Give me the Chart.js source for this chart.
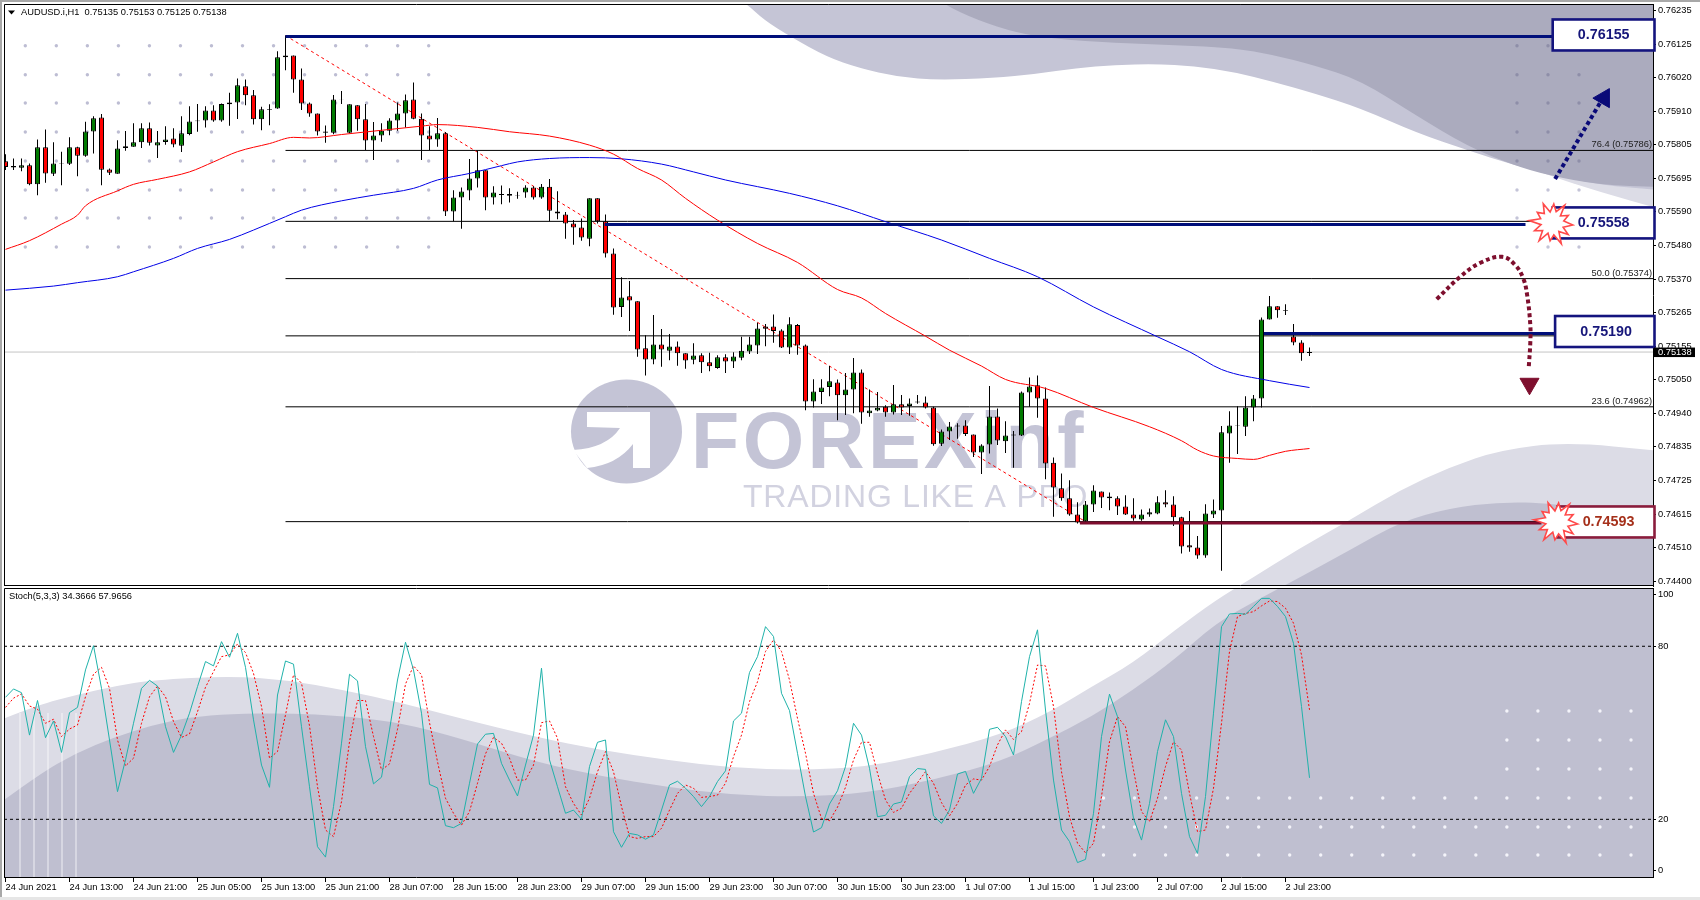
<!DOCTYPE html>
<html><head><meta charset="utf-8">
<style>
html,body{margin:0;padding:0;background:#fff;width:1700px;height:900px;overflow:hidden}
canvas{position:absolute;left:0}
#stripT{position:absolute;left:0;top:0;width:1700px;height:2px;background:#A8A8A8;z-index:5}
#stripL{position:absolute;left:0;top:0;width:2px;height:900px;background:#A8A8A8;z-index:5}
#stripB{position:absolute;left:0;top:897px;width:1700px;height:3px;background:#E6E6E6;z-index:5}
</style>
<script src="https://cdn.jsdelivr.net/npm/chart.js@4/dist/chart.umd.min.js"></script>
</head><body>
<div id="stripT"></div><div id="stripL"></div><div id="stripB"></div>
<canvas id="main" width="1700" height="587" style="top:0"></canvas>
<canvas id="sub" width="1700" height="313" style="top:587px"></canvas>
<script>
const symbolTitle="AUDUSD.i,H1  0.75135 0.75153 0.75125 0.75138";
const stochTitle="Stoch(5,3,3) 34.3666 57.9656";
const xTickLabels=["24 Jun 2021","24 Jun 13:00","24 Jun 21:00","25 Jun 05:00","25 Jun 13:00","25 Jun 21:00","28 Jun 07:00","28 Jun 15:00","28 Jun 23:00","29 Jun 07:00","29 Jun 15:00","29 Jun 23:00","30 Jun 07:00","30 Jun 15:00","30 Jun 23:00","1 Jul 07:00","1 Jul 15:00","1 Jul 23:00","2 Jul 07:00","2 Jul 15:00","2 Jul 23:00"];
const priceTicks=[0.76235,0.76125,0.7602,0.7591,0.75805,0.75695,0.7559,0.7548,0.7537,0.75265,0.75155,0.7505,0.7494,0.74835,0.74725,0.74615,0.7451,0.744];
const opens=[0.75751,0.75731,0.7573,0.75738,0.75677,0.75796,0.75711,0.75743,0.75743,0.75796,0.75769,0.75847,0.75892,0.75725,0.75711,0.75794,0.75798,0.75812,0.75857,0.75802,0.75813,0.75824,0.75801,0.75839,0.7588,0.75882,0.75914,0.75882,0.75934,0.7594,0.75992,0.75963,0.75886,0.75917,0.75921,0.76085,0.76091,0.76014,0.75937,0.75905,0.75843,0.75843,0.75949,0.75843,0.75931,0.75886,0.75818,0.75834,0.75849,0.75882,0.75905,0.7595,0.75888,0.75834,0.75821,0.75841,0.7559,0.75635,0.75657,0.75696,0.75722,0.75635,0.75643,0.7564,0.75641,0.75651,0.75667,0.75635,0.75669,0.7559,0.7558,0.75551,0.75538,0.75502,0.75632,0.75558,0.75455,0.75283,0.75317,0.75301,0.7515,0.75114,0.75162,0.75142,0.75156,0.75134,0.75113,0.75128,0.75105,0.75087,0.75121,0.75108,0.7512,0.7514,0.75159,0.7522,0.7522,0.75207,0.75153,0.75225,0.75159,0.74979,0.7501,0.75026,0.7504,0.74999,0.75018,0.75072,0.74941,0.7495,0.74962,0.74944,0.7497,0.74965,0.74976,0.74976,0.7496,0.74843,0.74883,0.74899,0.74902,0.74873,0.74815,0.74841,0.74931,0.74851,0.7487,0.7487,0.75008,0.75031,0.74989,0.74782,0.747,0.74668,0.74616,0.74594,0.74648,0.7469,0.74674,0.74668,0.74642,0.74616,0.746,0.74616,0.74619,0.74655,0.74648,0.74607,0.74517,0.7451,0.74484,0.74616,0.74629,0.74876,0.749,0.74898,0.7496,0.74989,0.75243,0.75285,0.7527,0.75188,0.75169,0.75135];
const highs=[0.75774,0.7576,0.7576,0.75744,0.75821,0.75853,0.75812,0.75782,0.75828,0.75798,0.75878,0.75896,0.75903,0.75728,0.75819,0.75848,0.75873,0.75873,0.75876,0.75848,0.75864,0.75857,0.75896,0.75928,0.75935,0.75928,0.75931,0.75937,0.75971,0.76017,0.76014,0.7598,0.75926,0.75934,0.76105,0.76155,0.76091,0.76049,0.7594,0.75905,0.75866,0.75964,0.75977,0.75934,0.75931,0.75935,0.75877,0.75873,0.75889,0.7594,0.75966,0.76004,0.75905,0.75864,0.7589,0.75845,0.75658,0.75667,0.75758,0.75784,0.75722,0.75671,0.75673,0.75664,0.75653,0.75674,0.75671,0.75678,0.75694,0.75655,0.75588,0.75562,0.75567,0.75632,0.75632,0.7558,0.75471,0.75378,0.75366,0.75301,0.75192,0.75257,0.75212,0.75196,0.75172,0.75134,0.75166,0.75134,0.75136,0.75128,0.75131,0.75137,0.75187,0.75187,0.75232,0.75228,0.75259,0.75211,0.7525,0.75228,0.75162,0.75051,0.75051,0.75093,0.7505,0.75071,0.75119,0.75082,0.75018,0.7501,0.74967,0.75032,0.75,0.74989,0.75,0.74995,0.74962,0.74889,0.74913,0.74909,0.74919,0.74873,0.74842,0.75029,0.74957,0.74916,0.74884,0.75011,0.75056,0.75063,0.75024,0.74799,0.74748,0.74726,0.74655,0.74659,0.7471,0.7469,0.74687,0.74675,0.74678,0.74668,0.74632,0.74635,0.74675,0.74694,0.74675,0.74609,0.74627,0.74547,0.74649,0.74664,0.749,0.74948,0.74964,0.74996,0.75,0.75249,0.75318,0.75285,0.75292,0.75228,0.75176,0.75153];
const lows=[0.75723,0.75723,0.75719,0.75674,0.75642,0.75682,0.75704,0.75674,0.75739,0.75703,0.75766,0.75776,0.75674,0.75707,0.75711,0.75785,0.75798,0.75794,0.75802,0.75762,0.75804,0.75796,0.75781,0.75835,0.75846,0.7586,0.75878,0.75878,0.75865,0.75887,0.75931,0.75869,0.75851,0.75867,0.7592,0.76044,0.75971,0.75916,0.75894,0.75834,0.75811,0.75838,0.75935,0.75841,0.75849,0.75787,0.75755,0.75814,0.75835,0.75849,0.7586,0.75886,0.75755,0.75787,0.75798,0.75575,0.75558,0.75534,0.75626,0.75667,0.75594,0.75612,0.75613,0.75619,0.75631,0.75634,0.75628,0.75631,0.75558,0.75565,0.75502,0.75483,0.75496,0.75478,0.75551,0.75442,0.75258,0.75251,0.75206,0.75123,0.75063,0.75099,0.75091,0.75112,0.75094,0.75084,0.75099,0.75071,0.75076,0.75084,0.75071,0.75087,0.75112,0.75132,0.75132,0.75157,0.75168,0.75151,0.75132,0.75129,0.74951,0.7496,0.74971,0.74996,0.74919,0.74936,0.74941,0.74908,0.7493,0.74948,0.7493,0.74937,0.74936,0.74933,0.74972,0.74957,0.74837,0.74836,0.74855,0.74859,0.74868,0.74801,0.74746,0.74812,0.74839,0.74814,0.74766,0.74868,0.74962,0.74927,0.74729,0.74609,0.7466,0.74612,0.74587,0.74591,0.74624,0.74637,0.7463,0.74614,0.74614,0.74596,0.74596,0.74609,0.74617,0.74639,0.74579,0.74491,0.74496,0.74474,0.74477,0.74605,0.74435,0.74782,0.7481,0.74868,0.74916,0.7496,0.75243,0.75248,0.75257,0.7516,0.7511,0.75125];
const closes=[0.75733,0.75736,0.75738,0.75677,0.75796,0.75712,0.75744,0.75745,0.75796,0.75769,0.75847,0.75889,0.75724,0.75714,0.75792,0.75799,0.75812,0.75857,0.75811,0.75812,0.75821,0.75805,0.75841,0.75879,0.75882,0.75914,0.75882,0.75935,0.7594,0.75995,0.75963,0.75886,0.75918,0.75919,0.76085,0.76091,0.76014,0.75937,0.75905,0.75847,0.75847,0.7595,0.7595,0.75934,0.75886,0.75818,0.75834,0.75849,0.75882,0.75905,0.75947,0.75888,0.75834,0.75821,0.75841,0.7559,0.75635,0.75654,0.75696,0.75722,0.75635,0.75651,0.75646,0.75646,0.75643,0.75667,0.75635,0.75669,0.75592,0.75583,0.75551,0.75538,0.75506,0.75632,0.75558,0.75455,0.75281,0.75313,0.75304,0.75146,0.75114,0.75162,0.75146,0.75156,0.75134,0.75111,0.75127,0.75105,0.75092,0.75121,0.75108,0.75124,0.75142,0.75162,0.75214,0.75213,0.75206,0.75153,0.75227,0.75159,0.74979,0.75011,0.75024,0.75044,0.74999,0.75018,0.75072,0.74944,0.7495,0.74959,0.74944,0.7497,0.7496,0.74973,0.74979,0.7496,0.74842,0.74883,0.74899,0.74902,0.74875,0.74815,0.74838,0.74931,0.74854,0.7487,0.74873,0.75008,0.75027,0.74989,0.7478,0.74703,0.74668,0.74616,0.7459,0.74648,0.74693,0.74671,0.74668,0.74642,0.74616,0.74603,0.74616,0.74623,0.74655,0.74648,0.74607,0.74513,0.7451,0.74484,0.74619,0.74629,0.7488,0.74902,0.74902,0.7496,0.74989,0.75243,0.75285,0.75272,0.75272,0.75169,0.75134,0.75138];
const maRedBars=[0,3,7,9,10,14,16,19,23,26,29,33,36,38,42,46,52,54,59,63,68,73,76,79,82,85,89,94,99,104,107,110,115,118,122,125,130,136,143,147,149,151,154,156,158,160,163];
const maRedValues=[0.75468,0.75496,0.75549,0.75578,0.75608,0.75656,0.75677,0.75693,0.75717,0.75749,0.75782,0.75808,0.75828,0.75826,0.75837,0.75848,0.75864,0.75869,0.7586,0.75846,0.75832,0.75803,0.75774,0.75728,0.75691,0.75632,0.75562,0.75487,0.75426,0.75339,0.75312,0.75262,0.75189,0.75144,0.75093,0.7505,0.75021,0.7496,0.74898,0.74853,0.74823,0.74804,0.74796,0.74793,0.74806,0.74819,0.74828];
const maBlueBars=[0,6,9,14,16,21,24,28,31,35,37,42,46,51,54,58,62,64,68,73,77,82,86,90,98,104,110,117,123,129,136,144,148,152,158,163];
const maBlueValues=[0.75337,0.7535,0.75361,0.7538,0.75396,0.75439,0.75471,0.755,0.7553,0.75573,0.75594,0.75624,0.75642,0.75664,0.75691,0.75712,0.75737,0.75749,0.7576,0.75763,0.75759,0.75742,0.75717,0.75691,0.75648,0.75608,0.75557,0.75498,0.75439,0.7538,0.75283,0.75187,0.75139,0.75082,0.75046,0.75024];
const stochK=[62.3,65.2,63.9,49.2,61.2,48.3,54.1,43.2,57.0,58.8,71.8,80.2,65.4,47.5,29.6,40.6,53.3,65.4,68.2,66.2,52.1,43.2,49.2,56.8,66.0,74.7,73.2,81.6,76.2,84.5,72.7,54.5,38.8,31.1,63.1,74.9,73.8,52.1,31.3,10.5,6.9,24.4,46.4,70.3,68.0,45.2,32.3,34.6,51.0,68.3,81.4,71.8,56.8,32.1,30.9,17.8,17.1,18.6,32.5,46.1,49.5,49.8,39.4,33.6,28.1,38.8,49.2,72.4,40.6,31.3,22.1,23.2,20.0,38.3,46.7,47.5,15.7,10.3,15.1,14.6,13.1,14.6,23.2,31.9,33.2,30.8,27.9,24.4,27.9,33.1,36.8,54.1,56.8,70.9,76.4,86.8,83.4,63.7,57.7,42.9,27.9,15.6,17.1,25.3,29.9,38.3,53.3,49.2,37.7,20.9,21.4,25.3,26.0,34.8,37.6,37.3,21.2,18.6,23.2,35.7,36.6,29.0,34.2,51.2,51.9,48.7,42.3,60.8,76.4,85.7,57.9,33.6,16.3,12.3,5.0,6.1,22.1,48.7,63.4,55.6,37.1,20.3,12.8,25.5,43.5,54.5,48.7,29.0,14.0,8.2,27.9,56.8,86.8,91.2,91.4,91.1,93.8,96.6,96.6,93.8,90.3,81.0,59.1,34.37];
const stochD=[58.8,62.0,63.5,59.3,58.2,53.3,54.7,48.7,51.3,52.7,62.5,70.3,72.7,65.4,47.5,38.5,41.2,53.3,62.5,66.2,62.5,53.9,48.4,49.6,57.3,65.8,71.2,76.4,77.0,80.8,77.8,70.6,59.1,41.2,43.5,56.2,70.1,67.2,52.4,31.3,16.3,14.0,26.1,46.9,61.2,61.2,48.7,37.1,39.2,51.2,66.9,73.2,70.1,53.5,40.0,27.3,22.1,18.0,22.7,32.5,42.7,48.4,46.4,41.2,33.6,33.6,38.8,53.5,54.1,48.1,31.3,25.5,21.5,27.3,36.5,43.5,36.5,24.4,14.0,13.4,14.0,14.0,16.9,23.2,29.0,31.9,30.8,27.6,27.9,28.4,32.5,41.7,49.2,60.8,67.7,78.2,82.2,78.2,68.3,55.0,42.9,29.0,20.3,19.5,24.2,31.1,40.6,46.7,46.7,36.0,26.7,22.4,23.8,29.0,32.7,36.5,32.5,25.8,21.2,25.5,31.9,34.0,33.6,38.3,45.8,51.0,47.7,50.4,60.2,73.5,73.2,59.1,36.5,20.9,11.7,8.4,11.7,27.9,46.9,55.6,52.1,37.1,22.7,19.2,27.3,38.3,46.9,44.0,29.0,15.7,16.3,30.8,53.3,78.2,90.3,91.4,92.0,94.0,95.7,95.5,93.2,88.0,77.0,57.97];
const stochLevels=[20,80];
const stochTickValues=[2.2,20,80,97.8];
const stochTickLabels=["0","20","80","100"];
const fibValues=[0.75786,0.75558,0.75374,0.7519,0.74962,0.74593];
const fibLabelValues=[0.75786,0.75374,0.74962];
const fibLabels=["76.4 (0.75786)","50.0 (0.75374)","23.6 (0.74962)"];
const fibStartBar=35, fibEndBar=135, fibHigh=0.76155, fibLow=0.74593;
const lastPrice=0.75138;
const levelValues=[0.76152,0.75548,0.75198,0.74589];
const levelStarts=[35,74.9,157.3,134.3];
const levelEnds=[193.4,190,194,192];
const levelColors=["#000F7A","#000F7A","#000F7A","#7E0C2E"];
const boxLabels=["0.76155","0.75558","0.75190","0.74593"];
const boxCenters=[0.76157,0.75553,0.75204,0.74592];
const boxBars=[193.4,193.4,193.7,194];
const boxBorders=["#14147E","#14147E","#14147E","#8A1C3C"];
const boxInks=["#16167A","#16167A","#16167A","#A5301A"];
const burstBars=[193.3,193.9];
const burstPrices=[0.75553,0.74592];
const upArrowBars=[193.7,199.3];
const upArrowPrices=[0.75694,0.75938];
const downArrowBars=[178.9,181.8,184.3,187.1,188.7,189.7,190.2,190.6,190.6,190.4];
const downArrowPrices=[0.75308,0.75379,0.75424,0.75444,0.75418,0.75376,0.75322,0.75225,0.75168,0.75087];

const FONT='"Liberation Sans",Arial,sans-serif';
const XMIN=-0.1875, XMAX=205.9375;
const pairs=(xs,ys)=>xs.map((x,i)=>({x,y:ys[i]}));
const hline=(a,b,v)=>[{x:a,y:v},{x:b,y:v}];
const isDoji=i=>Math.abs(opens[i]-closes[i])<=0.00003;
const lineBase={type:'line',pointRadius:0,borderWidth:1,tension:0,fill:false};

const WAVE_DARK_TOP=[[940,0],[945,5],[977,20],[1017,33],[1056,39],[1115,43],[1175,45],[1234,48],[1274,55],[1313,65],[1360,80],[1417,116],[1467,146],[1513,165],[1547,175],[1600,185],[1660,187]];
const WAVE_MID_TOP=[[740,0],[748,5],[764,20],[791,37],[827,57],[859,68],[898,77],[938,80],[993,78],[1036,74],[1076,68],[1115,65],[1155,64],[1194,66],[1234,72],[1274,82],[1313,93],[1360,108],[1417,133],[1467,150],[1513,165],[1560,176],[1600,185],[1660,190]];
const WAVE_LIGHT_TOP=[[1480,150],[1547,175],[1600,192],[1660,209]];
const WAVE_LIGHT_BOT=[[0,720],[38,705],[76,695],[115,686],[153,680],[230,676],[287,680],[344,690],[402,703],[459,718],[536,737],[600,750],[667,760],[733,768],[800,770],[867,767],[933,753],[1000,735],[1050,712],[1091,687],[1133,663],[1175,630],[1216,600],[1249,580],[1300,548],[1350,520],[1400,490],[1450,467],[1500,450],[1567,442],[1660,451]];
const WAVE_DARK_BOT=[[0,803],[38,775],[76,753],[115,737],[153,725],[191,717],[230,714],[287,713],[344,716],[402,723],[459,738],[536,762],[600,776],[667,787],[733,795],[800,797],[867,793],[933,780],[1000,762],[1050,738],[1091,717],[1133,690],[1174,660],[1216,623],[1257,600],[1295,580],[1350,550],[1400,522],[1450,508],[1500,502],[1550,503],[1660,518]];

function curve(ctx,p){
  ctx.moveTo(p[0][0],p[0][1]);
  for(let i=1;i<p.length-1;i++){
    ctx.quadraticCurveTo(p[i][0],p[i][1],(p[i][0]+p[i+1][0])/2,(p[i][1]+p[i+1][1])/2);
  }
  ctx.lineTo(p[p.length-1][0],p[p.length-1][1]);
}
function wave(ctx,p,color,closeY){
  ctx.beginPath();curve(ctx,p);
  ctx.lineTo(p[p.length-1][0],closeY);ctx.lineTo(p[0][0],closeY);ctx.closePath();
  ctx.fillStyle=color;ctx.fill();
}
function dot(ctx,x,y,c){ctx.fillStyle=c;ctx.beginPath();ctx.arc(x,y,1.7,0,Math.PI*2);ctx.fill();}

function backdrop(ctx,area,offsetY){
  ctx.save();
  ctx.beginPath();ctx.rect(area.left,area.top,area.right-area.left,area.bottom-area.top);ctx.clip();
  ctx.translate(0,-offsetY);
  wave(ctx,WAVE_LIGHT_TOP,'#DCDCE6',0);
  wave(ctx,WAVE_MID_TOP,'#C5C5D6',0);
  wave(ctx,WAVE_DARK_TOP,'#ABABBE',0);
  wave(ctx,WAVE_LIGHT_BOT,'#DCDCE6',900);
  wave(ctx,WAVE_DARK_BOT,'#BFBFD0',900);
  const rows=[45.7,74.7,103,132,161,190,218,247];
  for(let c=0;c<14;c++)for(const y of rows)dot(ctx,25.3+31.03*c,y,'#BDBDD3');
  [1517,1548,1579].forEach((x,c)=>rows.forEach((y,r)=>{if(!(c===2&&r===0))dot(ctx,x,y,y<175?'#8E8EA8':'#C4C4D8');}));
  for(const x of [19,33,47,61,75]){ctx.fillStyle='rgba(255,255,255,0.38)';ctx.fillRect(x,713,2,170);}
  for(let k=0;k<18;k++){
    for(const y of [798,827,855])dot(ctx,1103.5+31.03*k,y,'#F4F4FA');
    if(k>=13)for(const y of [711,740,769])dot(ctx,1103.5+31.03*k,y,'#F4F4FA');
  }
  ctx.restore();
}

const backdropMain={id:'backdropMain',beforeDatasetsDraw(c){
  const ctx=c.ctx;backdrop(ctx,c.chartArea,0);
  ctx.save();
  ctx.fillStyle='#C4C4D6';
  ctx.beginPath();ctx.ellipse(626.5,431.5,55.5,52,0,0,Math.PI*2);ctx.fill();
  ctx.fillStyle='#fff';
  ctx.beginPath();ctx.moveTo(587,412);ctx.lineTo(650,412);ctx.lineTo(650,468);ctx.lineTo(633,468);ctx.lineTo(633,444);
  ctx.quadraticCurveTo(617,465,587,468);ctx.lineTo(573,450);ctx.quadraticCurveTo(607,448,620,428);ctx.lineTo(587,427);ctx.closePath();ctx.fill();
  ctx.fillStyle='#C4C4D6';
  ctx.font='bold 79px '+FONT;ctx.textBaseline='alphabetic';ctx.textAlign='left';
  ctx.letterSpacing='3.4px';ctx.fillText('FOREXinf',691,468);
  ctx.fillStyle='#D2D2E0';
  ctx.font='32px '+FONT;ctx.letterSpacing='0.8px';ctx.fillText('TRADING LIKE A PRO',743,507);
  ctx.letterSpacing='0px';
  ctx.restore();
}};
const backdropSub={id:'backdropSub',beforeDatasetsDraw(c){backdrop(c.ctx,c.chartArea,587);}};

function burst(ctx,cx,cy){
  const radii=[21,12,20,11,23,12,18,11,22,12,19,11,23,12,18,12,21,11,19,12,22,11,18,12];
  ctx.beginPath();
  radii.forEach((r,i)=>{const a=i/radii.length*Math.PI*2+0.1;const x=cx+r*Math.cos(a),y=cy+r*Math.sin(a);i?ctx.lineTo(x,y):ctx.moveTo(x,y);});
  ctx.closePath();ctx.fillStyle='#fff';ctx.fill();ctx.strokeStyle='#FF4A4A';ctx.lineWidth=1.6;ctx.stroke();
}
const overlayMain={id:'overlayMain',afterDatasetsDraw(c){
  const ctx=c.ctx,xS=c.scales.x,yS=c.scales.y,a=c.chartArea;
  ctx.save();
  ctx.strokeStyle='#000';ctx.lineWidth=1;ctx.beginPath();
  ctx.moveTo(a.left+.5,a.bottom-.5);ctx.lineTo(a.left+.5,a.top+.5);ctx.lineTo(a.right,a.top+.5);
  ctx.moveTo(a.left,a.bottom-.5);ctx.lineTo(a.right,a.bottom-.5);ctx.stroke();
  ctx.fillStyle='#000';ctx.textBaseline='middle';ctx.textAlign='left';
  ctx.font='9.3px '+FONT;ctx.fillText(symbolTitle,21,12.5);
  ctx.beginPath();ctx.moveTo(8,10.5);ctx.lineTo(15,10.5);ctx.lineTo(11.5,14.5);ctx.closePath();ctx.fill();
  ctx.textAlign='right';ctx.textBaseline='bottom';ctx.fillStyle='#222';
  fibLabels.forEach((t,i)=>ctx.fillText(t,a.right-1,yS.getPixelForValue(fibLabelValues[i])-1));
  boxLabels.forEach((t,i)=>{
    const x=xS.getPixelForValue(boxBars[i]),y=yS.getPixelForValue(boxCenters[i]);
    ctx.fillStyle='#fff';ctx.fillRect(x,y-15.5,1654.5-x,31);
    ctx.strokeStyle=boxBorders[i];ctx.lineWidth=2.6;ctx.strokeRect(x,y-15.5,1654.5-x,31);
    ctx.fillStyle=boxInks[i];ctx.font='bold 14.3px '+FONT;ctx.textAlign='center';ctx.textBaseline='middle';
    ctx.fillText(t,x+51,y+0.5);
  });
  burstBars.forEach((b,i)=>burst(ctx,xS.getPixelForValue(b),yS.getPixelForValue(burstPrices[i])));
  const py=yS.getPixelForValue(lastPrice);
  ctx.fillStyle='#000';ctx.fillRect(a.right+1,py-4.5,41,9.5);
  ctx.fillStyle='#fff';ctx.font='9.3px '+FONT;ctx.textAlign='left';ctx.textBaseline='middle';
  ctx.fillText(lastPrice.toFixed(5),a.right+5,py+0.5);
  ctx.restore();
}};
const overlaySub={id:'overlaySub',afterDatasetsDraw(c){
  const ctx=c.ctx,a=c.chartArea;
  ctx.save();
  ctx.strokeStyle='#000';ctx.lineWidth=1;ctx.beginPath();
  ctx.moveTo(a.left+.5,a.bottom);ctx.lineTo(a.left+.5,a.top+.5);ctx.lineTo(a.right,a.top+.5);ctx.stroke();
  ctx.fillStyle='#000';ctx.font='9.3px '+FONT;ctx.textBaseline='middle';ctx.textAlign='left';
  ctx.fillText(stochTitle,9,9.5);
  ctx.restore();
}};

const wickColor='#000';
const mainDatasets=[
  {type:'bar',label:'Wicks',data:opens.map((_,i)=>({x:i,y:[lows[i],highs[i]]})),backgroundColor:wickColor,borderWidth:0,barThickness:1,grouped:false,inflateAmount:0,order:5},
  {type:'bar',label:'Bodies',data:opens.map((_,i)=>({x:i,y:[opens[i],closes[i]]})),
    backgroundColor:opens.map((_,i)=>isDoji(i)?'#000':(closes[i]>=opens[i]?'#007A00':'#FF0000')),
    borderColor:'#000',borderWidth:1,borderSkipped:false,barThickness:5,grouped:false,inflateAmount:0,order:4},
  {...lineBase,label:'MA red',data:pairs(maRedBars,maRedValues),borderColor:'#FF0000',cubicInterpolationMode:'monotone',order:3},
  {...lineBase,label:'MA blue',data:pairs(maBlueBars,maBlueValues),borderColor:'#0000E6',cubicInterpolationMode:'monotone',order:3},
  {...lineBase,label:'Fib diagonal',data:[{x:fibStartBar,y:fibHigh},{x:fibEndBar,y:fibLow}],borderColor:'#FF0000',borderDash:[3,3],order:6},
  {...lineBase,label:'Last price',data:hline(XMIN,XMAX,lastPrice),borderColor:'#C4C4C4',order:7}
];
fibValues.forEach((v,i)=>mainDatasets.push({...lineBase,label:'Fib '+v,data:hline(fibStartBar,XMAX,v),borderColor:'#000',order:6}));
levelValues.forEach((v,i)=>mainDatasets.push({...lineBase,label:'Level '+i,data:hline(levelStarts[i],levelEnds[i],v),borderColor:levelColors[i],borderWidth:3,order:2}));
mainDatasets.push({...lineBase,label:'Up arrow',data:pairs(upArrowBars,upArrowPrices),borderColor:'#0A0A78',borderWidth:4,borderDash:[4,3],order:1});
mainDatasets.push({...lineBase,label:'Down arrow',data:pairs(downArrowBars,downArrowPrices),borderColor:'#7E0F2E',borderWidth:4,borderDash:[4,3],tension:0.4,order:1});
mainDatasets.push({type:'line',label:'Up head',showLine:false,data:[{x:199.8,y:0.75954}],pointStyle:'triangle',pointRadius:11,pointRotation:30,pointBackgroundColor:'#0A0A78',pointBorderColor:'#0A0A78',order:1});
mainDatasets.push({type:'line',label:'Down head',showLine:false,data:[{x:190.5,y:0.75036}],pointStyle:'triangle',pointRadius:11,pointRotation:180,pointBackgroundColor:'#7E0F2E',pointBorderColor:'#7E0F2E',order:1});

new Chart(document.getElementById('main'),{
  data:{datasets:mainDatasets},
  plugins:[backdropMain,overlayMain],
  options:{
    responsive:false,animation:false,devicePixelRatio:1,
    layout:{autoPadding:false,padding:{left:4,top:4,right:0,bottom:1}},
    plugins:{legend:{display:false},tooltip:{enabled:false},title:{display:false}},
    scales:{
      x:{type:'linear',min:XMIN,max:XMAX,display:false,offset:false},
      y:{type:'linear',position:'right',min:0.743862,max:0.762565,
        afterFit(s){s.width=47;s.paddingTop=0;s.paddingBottom=0;},
        afterBuildTicks(s){s.ticks=priceTicks.map(v=>({value:v}));},
        grid:{drawOnChartArea:false,drawTicks:true,tickLength:3,color:'#000'},
        border:{display:true,color:'#000'},
        ticks:{autoSkip:false,padding:2,color:'#000',font:{family:FONT,size:9.3},callback:v=>Number(v).toFixed(5)}
      }
    }
  }
});

const subDatasets=[
  {...lineBase,label:'%D',data:stochD.map((y,x)=>({x,y})),borderColor:'#FF0000',borderDash:[2,2],order:2},
  {...lineBase,label:'%K',data:stochK.map((y,x)=>({x,y})),borderColor:'#20B2AA',order:1}
];
stochLevels.forEach(v=>subDatasets.push({...lineBase,label:'Level '+v,data:hline(XMIN,XMAX,v),borderColor:'#000',borderDash:[3,3],order:3}));

new Chart(document.getElementById('sub'),{
  data:{datasets:subDatasets},
  plugins:[backdropSub,overlaySub],
  options:{
    responsive:false,animation:false,devicePixelRatio:1,
    layout:{autoPadding:false,padding:{left:4,top:1,right:0,bottom:0}},
    plugins:{legend:{display:false},tooltip:{enabled:false},title:{display:false}},
    scales:{
      x:{type:'linear',min:XMIN,max:XMAX,position:'bottom',
        afterFit(s){s.height=23;s.paddingLeft=0;s.paddingRight=0;},
        afterBuildTicks(s){s.ticks=xTickLabels.map((_,i)=>({value:i*8}));},
        grid:{drawOnChartArea:false,drawTicks:true,tickLength:5,color:'#000'},
        border:{display:true,color:'#000'},
        ticks:{autoSkip:false,maxRotation:0,minRotation:0,align:'start',padding:0,color:'#000',font:{family:FONT,size:9.3},callback:v=>xTickLabels[Math.round(v/8)]}
      },
      y:{type:'linear',position:'right',min:0,max:100.2,
        afterFit(s){s.width=47;s.paddingTop=0;s.paddingBottom=0;},
        afterBuildTicks(s){s.ticks=stochTickValues.map(v=>({value:v}));},
        grid:{drawOnChartArea:false,drawTicks:true,tickLength:3,color:'#000'},
        border:{display:true,color:'#000'},
        ticks:{autoSkip:false,padding:2,color:'#000',font:{family:FONT,size:9.3},callback:v=>stochTickLabels[stochTickValues.indexOf(v)]}
      }
    }
  }
});
</script>
</body></html>
